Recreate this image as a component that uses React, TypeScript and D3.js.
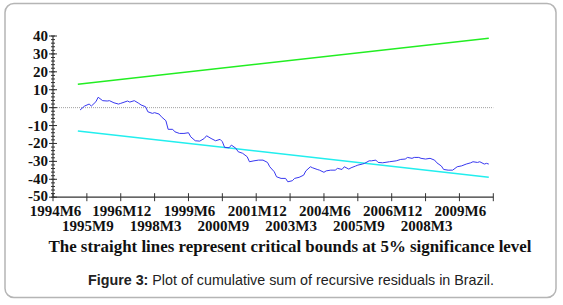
import React from "react";
import * as d3 from "d3";

// ---- Data ----
const cusumPeriods = [
  "1995M6","1995M8","1995M10","1995M11","1996M1","1996M2","1996M4","1996M6","1996M7","1996M9",
  "1996M11","1996M12","1997M3","1997M4","1997M6","1997M8","1997M9","1997M11","1997M12","1998M2",
  "1998M3","1998M5","1998M6","1998M8","1998M9","1998M11","1998M12","1999M2","1999M4","1999M6",
  "1999M7","1999M9","1999M11","2000M1","2000M2","2000M4","2000M6","2000M8","2000M9","2000M10",
  "2000M12","2001M1","2001M3","2001M4","2001M6","2001M8","2001M9","2001M11","2002M1","2002M3",
  "2002M5","2002M6","2002M8","2002M9","2002M11","2003M1","2003M2","2003M4","2003M5","2003M7",
  "2003M9","2003M10","2003M12","2004M1","2004M3","2004M4","2004M6","2004M7","2004M9","2004M11",
  "2004M12","2005M2","2005M3","2005M5","2005M6","2005M8","2005M9","2005M11","2005M12","2006M2",
  "2006M3","2006M5","2006M6","2006M8","2006M11","2007M2","2007M4","2007M6","2007M7","2007M9",
  "2007M10","2007M12","2008M1","2008M3","2008M5","2008M7","2008M8","2008M10","2008M11","2009M1",
  "2009M3","2009M5","2009M7","2009M9","2009M11","2009M12","2010M2","2010M3","2010M5","2010M6",
  "2010M7",
];
const cusumValues = [
  -1.3, 0.9, 2.0, 0.9, 3.3, 5.8, 3.9, 3.7, 3.9, 2.7,
  2.0, 2.4, 3.7, 3.1, 3.9, 2.4, 1.5, 0.5, -2.3, -3.2,
  -2.8, -3.6, -5.1, -7.3, -12.1, -12.1, -13.5, -14.4, -14.4, -14.0,
  -16.3, -18.5, -18.7, -17.2, -15.7, -17.2, -18.5, -17.7, -19.0, -22.2,
  -22.4, -20.9, -22.7, -24.6, -25.5, -27.4, -30.2, -29.7, -29.3, -29.3,
  -30.6, -33.0, -35.8, -38.6, -39.5, -39.5, -41.4, -40.8, -39.5, -38.9,
  -37.7, -35.3, -33.0, -33.6, -34.5, -34.9, -36.1, -35.3, -34.9, -34.9,
  -33.9, -34.5, -33.0, -34.3, -33.6, -32.6, -32.1, -31.5, -31.1, -29.7,
  -29.7, -29.3, -30.6, -30.8, -30.2, -29.7, -28.9, -28.7, -27.8, -28.3,
  -27.8, -27.8, -28.3, -28.7, -28.3, -29.3, -30.8, -32.6, -34.5, -34.9,
  -34.9, -33.0, -32.5, -31.5, -30.8, -30.2, -30.6, -30.2, -31.5, -31.1,
  -31.5,
];
const boundPeriods = ["1995M5", "2010M7"];
const upperBound = [13, 38.8];
const lowerBound = [-13, -38.8];

const xTickLabels = [
  "1994M6","1995M9","1996M12","1998M3","1999M6","2000M9","2001M12",
  "2003M3","2004M6","2005M9","2006M12","2008M3","2009M6","2010M9",
];
const yTickValues = [40, 30, 20, 10, 0, -10, -20, -30, -40, -50];

const captionText = "The straight lines represent critical bounds at 5% significance level";
const figureLabel = "Figure 3:";
const figureText = " Plot of cumulative sum of recursive residuals in Brazil.";

const toMonth = (p: string) => {
  const [yy, mm] = p.split("M").map(Number);
  return (yy - 1994) * 12 + (mm - 6);
};

export default function App() {
  const W = 563, H = 305;
  const x = d3.scaleLinear().domain([0, toMonth("2010M9")]).range([53, 493.3]);
  const y = d3.scaleLinear().domain([-50, 40]).range([197.2, 36]);

  const line = d3.line<[number, number]>().x(d => x(d[0])).y(d => y(d[1]));
  const cusum: [number, number][] = cusumPeriods.map((p, i) => [toMonth(p), cusumValues[i]]);
  const upper: [number, number][] = boundPeriods.map((p, i) => [toMonth(p), upperBound[i]]);
  const lower: [number, number][] = boundPeriods.map((p, i) => [toMonth(p), lowerBound[i]]);

  const minorTicks = d3.range(-50, 40.001, 2);
  const serif = "'Liberation Serif', 'Times New Roman', serif";

  return (
    <svg width={W} height={H} style={{ position: "absolute", left: 0, top: 0, background: "#fff" }}>
      <rect x={5} y={3.5} width={551} height={294} rx={9} fill="#fff" stroke="#b5b5b5" strokeWidth={1.5} />
      {/* zero reference line */}
      <line x1={x(0)} x2={x(toMonth("2010M9"))} y1={y(0)} y2={y(0)} stroke="#a0a0a0" strokeWidth={1} strokeDasharray="1,1" />
      {/* bounds */}
      <path d={line(upper) || ""} fill="none" stroke="#22ee22" strokeWidth={1.5} />
      <path d={line(lower) || ""} fill="none" stroke="#22eeee" strokeWidth={1.5} />
      {/* cusum */}
      <path d={line(cusum) || ""} fill="none" stroke="#3838f0" strokeWidth={1} />
      {/* y axis */}
      <line x1={53} x2={53} y1={y(40)} y2={y(-50)} stroke="#333" strokeWidth={1.2} />
      {minorTicks.map(v => (
        <line key={"m" + v} x1={51} x2={55} y1={y(v)} y2={y(v)} stroke="#333" strokeWidth={1} />
      ))}
      {yTickValues.map(v => (
        <g key={"y" + v}>
          <line x1={49} x2={57} y1={y(v)} y2={y(v)} stroke="#333" strokeWidth={1} />
          <text x={48} y={y(v) + (v === -50 ? 4 : 5)} textAnchor="end" fontFamily={serif} fontWeight="bold" fontSize={15} fill="#111">{v}</text>
        </g>
      ))}
      {/* x axis */}
      <line x1={x(0)} x2={x(toMonth("2010M9"))} y1={y(-50)} y2={y(-50)} stroke="#333" strokeWidth={1.2} />
      {xTickLabels.map((lab, i) => {
        const m = toMonth(lab);
        const px = x(m);
        const isLast = i === xTickLabels.length - 1;
        return (
          <g key={lab}>
            <line x1={px} x2={px} y1={y(-50) - 4} y2={y(-50) + 4} stroke="#333" strokeWidth={1} />
            {!isLast && (
              <text x={px + (i === 0 ? 2.5 : 1)} y={i % 2 === 0 ? 215.5 : 230.5} textAnchor="middle" fontFamily={serif}
                fontWeight="bold" fontSize={15} fill="#111">{lab}</text>
            )}
          </g>
        );
      })}
      <text x={290} y={251.5} textAnchor="middle" fontFamily={serif} fontWeight="bold" fontSize={16}
        textLength={483} lengthAdjust="spacingAndGlyphs" fill="#111">{captionText}</text>
      <text x={291} y={285} textAnchor="middle" fontFamily="'Liberation Sans', Arial, sans-serif" fontSize={14.3} fill="#222">
        <tspan fontWeight="bold">{figureLabel}</tspan>{figureText}
      </text>
    </svg>
  );
}
